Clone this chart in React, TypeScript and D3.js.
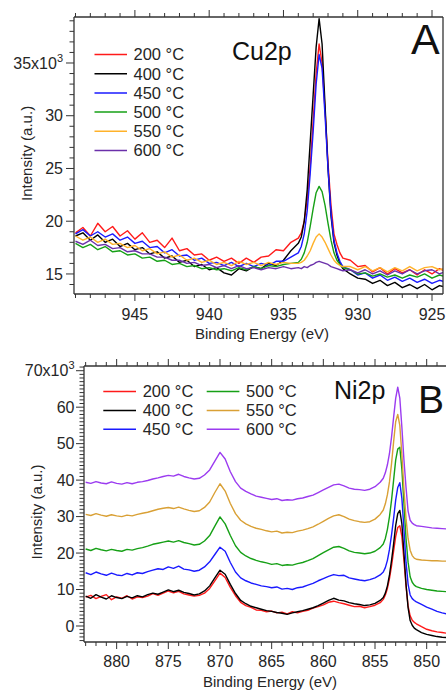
import React from "react";
import * as d3 from "d3";

const FONT = "'Liberation Sans', Arial, Helvetica, sans-serif";
const INK = "#262626";
const W = 446;
const H = 691;

// ---------- Cu2p (panel A) ----------
// Binding-energy grid (eV): 0.5 eV steps, 0.2 eV across the 2p3/2 line
const cuEnergy = [
  ...d3.range(949, 934.4, -0.5),
  ...d3.range(934, 930.9, -0.2),
  ...d3.range(930.5, 923.9, -0.5),
];

const tempLabels = ["200 °C", "400 °C", "450 °C", "500 °C", "550 °C", "600 °C"];

// Intensities in units of 10^3 counts
const cu200 = [
  18.9, 19.4, 18.6, 19.8, 19.0, 19.5, 18.6, 19.1, 18.3, 18.9,
  18.0, 18.2, 17.5, 18.4, 17.2, 17.4, 16.8, 16.9, 16.3, 16.6,
  16.2, 16.5, 16.0, 16.5, 16.1, 16.6, 16.7, 17.3, 17.2, 18.0,
  18.4, 18.9, 20.0, 22.0, 25.2, 29.5, 34.0, 36.8, 35.0, 30.5, 25.5, 21.5, 18.8, 17.8, 17.0, 16.5,
  16.3, 15.7, 15.8, 15.2, 15.6, 15.0, 15.5, 15.1, 15.4, 14.9, 15.4, 15.0, 15.5, 15.2,
];
const cu400 = [
  18.6, 18.9, 18.2, 18.7, 18.0, 18.3, 17.6, 17.9, 17.3, 17.5,
  16.9, 17.1, 16.5, 16.7, 16.1, 16.3, 15.7, 15.9, 15.4, 15.6,
  15.1, 14.9, 15.5, 15.3, 15.7, 15.5, 16.0, 15.8, 16.3, 17.2,
  17.9, 18.5, 20.0, 23.0, 27.5, 32.0, 36.5, 39.2, 36.8, 31.0, 25.0, 20.5, 18.0, 16.8, 16.0, 15.5,
  15.0, 14.6, 14.5, 14.1, 14.4, 13.9, 14.2, 13.7, 14.0, 13.6, 14.0, 13.5, 13.9, 13.7,
];
const cu450 = [
  18.8, 19.2, 18.6, 19.0, 18.5, 18.8, 18.2, 18.5, 17.9, 18.1,
  17.5, 17.6, 17.0, 17.3, 16.7, 16.8, 16.3, 16.5, 16.0, 16.1,
  15.8, 16.1, 15.7, 16.0, 15.7, 16.0, 15.8, 16.2, 16.2, 16.6,
  17.0, 17.6, 18.8, 21.0, 24.5, 28.5, 33.0, 35.8, 34.5, 30.0, 25.0, 20.8, 18.2, 17.0, 16.2, 15.7,
  15.4, 14.9, 15.1, 14.6, 14.9, 14.4, 14.7, 14.3, 14.6, 14.2, 14.5, 14.1, 14.4, 14.2,
];
const cu500 = [
  17.9, 17.5, 17.8, 17.3, 17.6, 17.1, 17.2, 16.8, 16.9, 16.5,
  16.6, 16.2, 16.3, 15.9, 16.0, 15.7, 15.8, 15.5, 15.6, 15.4,
  15.5, 15.3, 15.6, 15.4, 15.7, 15.5, 15.8, 15.7, 15.9, 16.0,
  16.1, 16.4, 17.0, 18.0, 19.5, 21.2, 22.7, 23.3, 22.8, 21.5, 19.8, 18.2, 17.0, 16.3, 15.9, 15.6,
  15.4, 15.0, 15.1, 14.8, 15.0, 14.7, 14.9, 14.6, 14.9, 14.7, 15.0, 14.6, 14.9, 14.7,
];
const cu550 = [
  18.6, 18.2, 18.5, 18.0, 18.3, 17.8, 17.9, 17.5, 17.7, 17.2,
  17.4, 16.9, 17.1, 16.6, 16.8, 16.3, 16.5, 16.1, 16.3, 15.9,
  16.1, 15.8, 16.2, 15.9, 16.1, 15.8, 16.1, 15.9, 16.1, 16.0,
  16.0, 16.1, 16.3, 16.7, 17.2, 17.9, 18.5, 18.8, 18.5, 18.0, 17.4, 16.8, 16.3, 16.0, 15.8, 15.7,
  15.7, 15.4, 15.7, 15.3, 15.6, 15.2, 15.6, 15.3, 15.7, 15.3, 15.6, 15.7, 15.4, 15.6,
];
const cu600 = [
  18.1, 17.8, 18.2, 17.7, 17.8, 17.4, 17.5, 17.1, 17.2, 16.9,
  16.9, 16.6, 16.6, 16.3, 16.3, 16.0, 16.1, 15.8, 15.9, 15.6,
  15.8, 15.5, 15.8, 15.5, 15.6, 15.4, 15.6, 15.5, 15.7, 15.5,
  15.6, 15.5, 15.7, 15.6, 15.8, 15.9, 16.1, 16.2, 16.1, 16.0, 15.9, 15.7, 15.6, 15.5, 15.4, 15.3,
  15.4, 15.1, 15.4, 15.0, 15.3, 14.9, 15.3, 15.0, 15.4, 15.0, 15.3, 15.4, 15.0, 15.3,
];
const cuColors = ["#ff1a1a", "#000000", "#1a1aff", "#16a016", "#ffb22a", "#6b30aa"];

// ---------- Ni2p (panel B) ----------
const niEnergy = [
  ...d3.range(883, 854.4, -0.5),
  ...d3.range(854.2, 850.9, -0.2),
  ...d3.range(850.5, 847.9, -0.5),
];

const ni200 = [
  7.9, 8.4, 7.5, 8.1, 8.6, 7.2, 8.0, 7.6, 8.3, 7.4,
  8.0, 7.8, 8.2, 8.9, 8.4, 9.0, 9.6, 9.1, 9.5, 8.8,
  8.5, 8.2, 8.4, 9.0, 10.3, 12.4, 14.5, 13.3, 10.6, 8.3,
  6.5, 5.6, 5.1, 4.4, 4.3, 3.9, 4.1, 3.6, 3.8, 3.3,
  3.9, 3.6, 4.0, 4.3, 4.9, 5.3, 5.8, 6.5, 6.8, 6.4,
  6.1, 5.7, 5.3, 5.4, 5.0, 5.3, 5.7, 6.4,
  7.3, 8.5, 10.3, 13.0, 16.5, 20.5, 24.5, 27.0, 27.5, 24.5, 18.0, 11.0, 5.5, 2.8, 1.6, 1.0, 0.6,
  -0.2, -0.9, -1.3, -1.6, -1.8, -2.0,
];
const ni400 = [
  8.2, 7.6, 8.6, 7.9, 7.4, 8.3, 7.8, 7.5, 8.1, 7.7,
  8.3, 8.0, 8.6, 9.0, 8.7, 9.3, 9.9, 9.4, 9.8, 9.2,
  8.9, 8.5, 8.8, 9.6, 11.0, 13.2, 15.3, 14.2, 11.4, 8.9,
  7.0, 6.1, 5.4, 5.0, 4.6, 4.2, 4.0, 3.7, 3.5, 3.2,
  3.6, 3.9, 4.2, 4.6, 5.0, 5.6, 6.3, 7.0, 7.6, 7.1,
  6.9, 6.4, 6.1, 5.9, 5.6, 5.8, 6.2, 7.0,
  7.8, 9.0, 11.0, 14.0, 18.0, 22.5, 27.5, 30.8, 31.7, 28.0, 20.0, 11.5, 5.0, 1.5, 0.2, -0.6, -1.0,
  -1.8, -2.3, -2.6, -2.9, -3.1, -3.2,
];
const ni450 = [
  14.6, 14.1, 14.8, 14.3, 13.9, 14.5, 14.0, 13.8, 14.4, 14.0,
  14.6, 14.4, 14.9, 15.3, 15.7, 15.5, 16.2, 15.8, 16.4, 15.6,
  15.4, 15.0, 15.3, 16.2, 17.6, 19.6, 21.6, 20.5, 17.4, 14.8,
  13.2, 12.4, 11.8, 11.4, 11.0, 10.8, 10.5, 10.7, 10.1, 10.3,
  10.0, 10.5, 10.7, 11.2, 11.7, 12.4, 13.0, 13.6, 14.1, 13.8,
  13.9, 13.2, 12.9, 12.6, 12.4, 12.7, 13.2, 14.0,
  14.8, 16.0, 18.0, 21.0, 25.0, 29.5, 34.5, 38.0, 39.3, 35.0, 26.5, 17.5, 11.5, 8.5, 7.5, 7.0, 6.6,
  5.9, 5.2, 4.6, 4.0, 3.6, 3.3,
];
const ni500 = [
  21.1, 20.7, 21.3, 20.9, 20.6, 21.0, 20.7, 20.5, 21.0, 20.8,
  21.2, 21.5, 21.9, 22.4, 22.7, 23.0, 23.3, 23.0, 23.4, 22.9,
  22.6, 22.2, 22.4, 23.3, 24.8, 27.4, 29.9, 28.0, 24.8, 22.0,
  20.2, 19.2, 18.5, 18.0, 17.6, 17.3, 16.9, 17.1, 16.6, 16.8,
  16.7, 17.1, 17.4, 17.9, 18.5, 19.3, 20.1, 20.9, 21.6, 21.8,
  21.3, 20.6, 20.2, 20.0, 19.8, 20.0, 20.5, 21.5,
  22.5, 24.0, 26.5, 30.0, 34.5, 40.0, 45.5, 48.5, 49.0, 43.0, 33.5, 24.0, 17.5, 13.5, 12.0, 11.2, 10.8,
  10.3, 10.0, 9.8, 9.6, 9.5, 9.4,
];
const ni550 = [
  30.6, 30.3, 30.8, 30.4, 30.1, 30.5, 30.2, 30.0, 30.4, 30.2,
  30.6, 30.9, 31.2, 31.6, 32.0, 32.3, 32.5, 32.2, 32.6, 32.1,
  31.7, 31.4, 31.6, 32.5, 34.0, 36.6, 39.0, 37.0, 33.6, 30.8,
  29.0, 28.0, 27.3, 26.8, 26.5, 26.1, 25.8, 26.0, 25.5, 25.7,
  25.6, 26.0, 26.3, 26.7, 27.2, 27.9, 28.7, 29.5, 30.2, 30.5,
  30.0, 29.3, 28.9, 28.6, 28.4, 28.6, 29.3, 30.6,
  31.8, 33.5, 36.0, 39.5, 44.5, 50.5, 56.0, 58.0, 55.0, 47.0, 37.5, 29.5, 24.0, 20.8, 19.3, 18.6, 18.3,
  18.1, 18.0, 17.9, 17.9, 17.8, 17.8,
];
const ni600 = [
  39.4, 39.1, 39.6, 39.2, 39.0, 39.5, 39.1, 38.9, 39.3, 39.0,
  39.4, 39.6, 39.9, 40.3, 40.6, 41.0, 41.3, 41.1, 41.6, 41.0,
  40.6, 40.3, 40.5, 41.4, 42.8, 45.2, 47.6, 45.8, 42.3, 39.6,
  37.8, 36.9, 36.2, 35.6, 35.3, 35.0, 34.7, 34.9, 34.4, 34.6,
  34.5, 34.9, 35.1, 35.5, 35.9, 36.6, 37.3, 38.0, 38.7, 38.9,
  38.4, 37.8, 37.5, 37.4, 37.2, 37.5, 38.2, 39.4,
  40.5, 42.0, 44.2, 47.3, 51.8, 57.2, 62.4, 65.5, 62.5, 54.5, 45.5, 38.0, 31.5, 29.0, 28.2, 27.8, 27.5,
  27.3, 27.1, 26.9, 26.8, 26.7, 26.6,
];
const niColors = ["#ff1a1a", "#000000", "#1a1aff", "#16a016", "#d9a035", "#9b3bf0"];

const cuXLabels = [945, 940, 935, 930, 925];
const cuYLabels = [15, 20, 25, 30, 35];
const niXLabels = [880, 875, 870, 865, 860, 855, 850];
const niYLabels = [0, 10, 20, 30, 40, 50, 60, 70];

type LegendSpec = {
  lineX0: number;
  lineX1: number;
  textX: number;
  rowY0: number;
  rowStep: number;
  rowsPerCol: number;
  colStep: number;
};

type PanelProps = {
  id: string;
  box: { left: number; top: number; right: number; bottom: number };
  xDomain: [number, number];
  yDomain: [number, number];
  energy: number[];
  series: number[][];
  colors: string[];
  xLabels: number[];
  yLabels: number[];
  yMajorStep: number;
  yTickLabelX: number;
  xTickBaseline: number;
  xTitle: { x: number; y: number };
  yTitle: { x: number; y: number };
  legend: LegendSpec;
  name: { text: string; x: number; y: number };
  letter: { text: string; x: number; y: number; size: number };
  drawRight: boolean;
};

function Panel(p: PanelProps) {
  const { left, top, right, bottom } = p.box;
  const x = d3.scaleLinear().domain(p.xDomain).range([left, right]);
  const y = d3.scaleLinear().domain(p.yDomain).range([bottom, top]);

  const line = (vals: number[]) =>
    d3
      .line<number>()
      .x((_, i) => x(p.energy[i]))
      .y((v) => y(v))(vals.slice(0, p.energy.length)) || "";

  const xLo = Math.ceil(Math.min(...p.xDomain));
  const xHi = Math.floor(Math.max(...p.xDomain));
  const xTicks = d3.range(xLo, xHi + 1, 1).filter((v) => x(v) <= W + 1);
  const yTicks = d3.range(Math.ceil(p.yDomain[0]), Math.floor(p.yDomain[1]) + 1, 1);
  const topLabel = p.yLabels[p.yLabels.length - 1];

  return (
    <g>
      <defs>
        <clipPath id={p.id}>
          <rect x={left} y={top} width={right - left} height={bottom - top} />
        </clipPath>
      </defs>

      {/* spectra */}
      <g clipPath={`url(#${p.id})`}>
        {p.series.map((vals, k) => (
          <path key={k} d={line(vals)} fill="none" stroke={p.colors[k]} strokeWidth={1.4} strokeLinejoin="round" />
        ))}
      </g>

      {/* frame */}
      <g stroke="#333" strokeWidth={1.3} fill="none">
        <line x1={left} y1={top} x2={right} y2={top} />
        <line x1={left} y1={bottom} x2={right} y2={bottom} />
        <line x1={left} y1={top} x2={left} y2={bottom} />
        {p.drawRight && <line x1={right} y1={top} x2={right} y2={bottom} />}
      </g>

      {/* x ticks, top and bottom, pointing outward */}
      <g stroke="#333" strokeWidth={1}>
        {xTicks.map((v) => {
          const len = v % 5 === 0 ? 7 : 4;
          const xx = x(v);
          return (
            <g key={v}>
              <line x1={xx} x2={xx} y1={bottom} y2={bottom + len} />
              <line x1={xx} x2={xx} y1={top} y2={top - len} />
            </g>
          );
        })}
      </g>

      {/* y ticks on the left */}
      <g stroke="#333" strokeWidth={1}>
        {yTicks.map((v) => {
          const len = v % p.yMajorStep === 0 ? 8 : 4.5;
          const yy = y(v);
          return <line key={v} x1={left - len} x2={left} y1={yy} y2={yy} />;
        })}
      </g>

      {/* tick labels */}
      <g fontFamily={FONT} fontSize={16} fill={INK}>
        {p.xLabels.map((v) => (
          <text key={v} x={x(v)} y={p.xTickBaseline} textAnchor="middle">
            {v}
          </text>
        ))}
        {p.yLabels.map((v) => (
          <text key={v} x={p.yTickLabelX} y={y(v) + 5.7} textAnchor="end">
            {v === topLabel ? (
              <>
                {`${v}x10`}
                <tspan dy={-7} fontSize={11}>
                  3
                </tspan>
              </>
            ) : (
              v
            )}
          </text>
        ))}
      </g>

      {/* axis titles */}
      <g fontFamily={FONT} fontSize={15} fill={INK}>
        <text x={p.xTitle.x} y={p.xTitle.y} textAnchor="middle">
          Binding Energy (eV)
        </text>
        <text transform={`translate(${p.yTitle.x},${p.yTitle.y}) rotate(-90)`} textAnchor="middle">
          Intensity (a.u.)
        </text>
      </g>

      {/* legend */}
      <g fontFamily={FONT} fontSize={16.5} fill={INK}>
        {tempLabels.map((lab, k) => {
          const col = Math.floor(k / p.legend.rowsPerCol);
          const row = k % p.legend.rowsPerCol;
          const dx = col * p.legend.colStep;
          const yy = p.legend.rowY0 + row * p.legend.rowStep;
          return (
            <g key={lab}>
              <line
                x1={p.legend.lineX0 + dx}
                x2={p.legend.lineX1 + dx}
                y1={yy}
                y2={yy}
                stroke={p.colors[k]}
                strokeWidth={1.5}
              />
              <text x={p.legend.textX + dx} y={yy + 5.9}>
                {lab}
              </text>
            </g>
          );
        })}
      </g>

      {/* core-level name and panel letter */}
      <text x={p.name.x} y={p.name.y} fontFamily={FONT} fontSize={25} fill="#111">
        {p.name.text}
      </text>
      <text x={p.letter.x} y={p.letter.y} fontFamily={FONT} fontSize={p.letter.size} fill="#111">
        {p.letter.text}
      </text>
    </g>
  );
}

export default function App() {
  return (
    <svg
      width={W}
      height={H}
      viewBox={`0 0 ${W} ${H}`}
      style={{ position: "absolute", left: 0, top: 0, background: "#fff" }}
    >
      <rect width={W} height={H} fill="#fff" />
      <Panel
        id="clip-cu"
        box={{ left: 74, top: 17, right: 443, bottom: 294 }}
        xDomain={[949.1, 924.26]}
        yDomain={[13.1, 39.36]}
        energy={cuEnergy}
        series={[cu200, cu400, cu450, cu500, cu550, cu600]}
        colors={cuColors}
        xLabels={cuXLabels}
        yLabels={cuYLabels}
        yMajorStep={5}
        yTickLabelX={63}
        xTickBaseline={319.5}
        xTitle={{ x: 262, y: 339 }}
        yTitle={{ x: 31.5, y: 153.4 }}
        legend={{ lineX0: 94.5, lineX1: 127, textX: 133.5, rowY0: 54.5, rowStep: 19.2, rowsPerCol: 6, colStep: 0 }}
        name={{ text: "Cu2p", x: 232, y: 59.5 }}
        letter={{ text: "A", x: 411, y: 54.3, size: 43 }}
        drawRight={true}
      />
      <Panel
        id="clip-ni"
        box={{ left: 84, top: 366, right: 452, bottom: 642 }}
        xDomain={[883.16, 847.55]}
        yDomain={[-4.39, 71.29]}
        energy={niEnergy}
        series={[ni200, ni400, ni450, ni500, ni550, ni600]}
        colors={niColors}
        xLabels={niXLabels}
        yLabels={niYLabels}
        yMajorStep={10}
        yTickLabelX={74.5}
        xTickBaseline={666.5}
        xTitle={{ x: 270, y: 687 }}
        yTitle={{ x: 42, y: 512 }}
        legend={{ lineX0: 103.3, lineX1: 136, textX: 142.7, rowY0: 391.5, rowStep: 18.9, rowsPerCol: 3, colStep: 103.4 }}
        name={{ text: "Ni2p", x: 334, y: 399 }}
        letter={{ text: "B", x: 418, y: 413.3, size: 39 }}
        drawRight={false}
      />
    </svg>
  );
}
